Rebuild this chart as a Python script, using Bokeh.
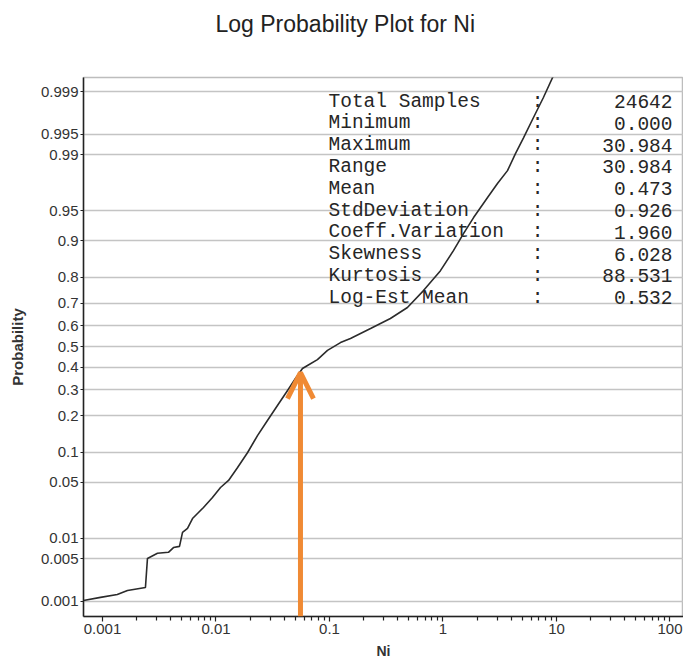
from statistics import NormalDist
from bokeh.plotting import figure
from bokeh.models import (Range1d, FixedTicker, CustomJSTickFormatter, Title,
                          Arrow, OpenHead, ColumnDataSource)
from bokeh.core.properties import value
from bokeh.embed import file_html
from bokeh.resources import INLINE

# ---------------- data ----------------
ni_values = [0.00068, 0.00096, 0.00135, 0.00166, 0.00239, 0.00249, 0.00305, 0.00381,
             0.00422, 0.00477, 0.00507, 0.00561, 0.00621, 0.00701, 0.00776, 0.00931,
             0.01096, 0.0129, 0.0155, 0.0190, 0.0232, 0.0284, 0.0348, 0.0427, 0.0501,
             0.0578, 0.0640, 0.0783, 0.0960, 0.125, 0.153, 0.230, 0.344, 0.486, 0.673,
             0.950, 1.24, 1.52, 1.86, 2.47, 3.02, 3.70, 4.35, 5.12, 6.27, 7.67, 9.41]
cum_prob = [0.00104, 0.00118, 0.00132, 0.00155, 0.00174, 0.0051, 0.0061, 0.0063,
            0.0074, 0.0077, 0.0121, 0.0137, 0.0185, 0.0221, 0.0255, 0.0336,
            0.0437, 0.0522, 0.0712, 0.0994, 0.140, 0.185, 0.237, 0.297, 0.349,
            0.395, 0.409, 0.437, 0.481, 0.519, 0.539, 0.586, 0.633, 0.682, 0.751,
            0.821, 0.878, 0.915, 0.941, 0.9645, 0.9759, 0.9835, 0.9903, 0.9943, 0.99725, 0.99873, 0.99949]

prob_ticks = [0.001, 0.005, 0.01, 0.05, 0.1, 0.2, 0.3, 0.4, 0.5, 0.6, 0.7, 0.8,
              0.9, 0.95, 0.99, 0.995, 0.999]
prob_tick_labels = ["0.001", "0.005", "0.01", "0.05", "0.1", "0.2", "0.3", "0.4", "0.5",
                    "0.6", "0.7", "0.8", "0.9", "0.95", "0.99", "0.995", "0.999"]
x_major_ticks = [0.001, 0.01, 0.1, 1, 10, 100]

stat_names = ["Total Samples", "Minimum", "Maximum", "Range", "Mean", "StdDeviation",
              "Coeff.Variation", "Skewness", "Kurtosis", "Log-Est Mean"]
stat_values = ["24642", "0.000", "30.984", "30.984", "0.473", "0.926", "1.960",
               "6.028", "88.531", "0.532"]

arrow_x = 0.0555
arrow_p = 0.376

# ---------------- layout ----------------
W, H = 683, 663
FL, FR, FT, FB = 83, 683, 77, 616
LX_MIN, LX_MAX = -3.1674, 2.119
Z_MIN, Z_MAX = -3.273, 3.261

def x_at(px):
    return 10 ** (LX_MIN + (px - FL) / (FR - FL) * (LX_MAX - LX_MIN))

def z_at(py):
    return Z_MAX - (py - FT) / (FB - FT) * (Z_MAX - Z_MIN)

nd = NormalDist()
z_vals = [nd.inv_cdf(p) for p in cum_prob]
z_ticks = [nd.inv_cdf(p) for p in prob_ticks]

p = figure(width=W, height=H, x_axis_type="log",
           x_range=Range1d(10 ** LX_MIN, 10 ** LX_MAX), y_range=Range1d(Z_MIN, Z_MAX),
           output_backend="svg", toolbar_location=None, title=None,
           min_border_left=FL, min_border_right=W - FR, min_border_top=FT,
           min_border_bottom=H - FB)
# spacer panel next to the frame, then the real title above it
p.add_layout(Title(text=" ", text_font_size="22px", standoff=14), "above")
p.add_layout(Title(text="Log Probability Plot for Ni", text_font="Liberation Sans",
                   text_font_size="23px", text_font_style="normal", text_color="#222222",
                   align="left", offset=215 - FL, standoff=0), "above")
p.background_fill_color = "white"
p.border_fill_color = "white"
p.outline_line_color = "#bdbdbd"
p.outline_line_width = 1.5

# axes
minor = [m * 10 ** e for e in range(-3, 3) for m in range(2, 10)]
p.xaxis.ticker = FixedTicker(ticks=x_major_ticks, minor_ticks=minor)
p.xaxis.formatter = CustomJSTickFormatter(code="return String(tick);")
p.yaxis.ticker = FixedTicker(ticks=z_ticks)
p.yaxis.formatter = CustomJSTickFormatter(
    args=dict(zs=z_ticks, labels=prob_tick_labels),
    code="""let b = 0;
for (let i = 0; i < zs.length; i++) { if (Math.abs(zs[i]-tick) < Math.abs(zs[b]-tick)) b = i; }
return labels[b];""")

for ax in (p.xaxis[0], p.yaxis[0]):
    ax.axis_line_color = "#222222"
    ax.axis_line_width = 1.5
    ax.major_tick_line_color = "#222222"
    ax.minor_tick_line_color = "#222222"
    ax.major_tick_line_width = 1.2
    ax.minor_tick_line_width = 1.2
    ax.major_tick_in = 0
    ax.minor_tick_in = 0
    ax.major_label_text_font = "Liberation Sans"
    ax.major_label_text_font_size = "15px"
    ax.major_label_text_color = "#333333"
    ax.axis_label_text_font = "Liberation Sans"
    ax.axis_label_text_font_style = "bold"
    ax.axis_label_text_color = "#333333"

p.xaxis.major_tick_out = 5
p.xaxis.minor_tick_out = 4
p.xaxis.major_label_standoff = 2
p.xaxis.axis_label = "Ni"
p.xaxis.axis_label_text_font_size = "14px"
p.xaxis.axis_label_standoff = 6

p.yaxis.major_tick_out = 3
p.yaxis.minor_tick_out = 0
p.yaxis.major_label_standoff = 2
p.yaxis.axis_label = "Probability"
p.yaxis.axis_label_text_font_size = "15px"
p.yaxis.axis_label_standoff = 12

p.xgrid.visible = False
p.ygrid.grid_line_color = "#c4c4c4"
p.ygrid.grid_line_width = 1.5

# curve
src = ColumnDataSource(dict(x=ni_values, z=z_vals))
p.line("x", "z", source=src, line_color="#2b2b2b", line_width=1.6)

# arrow
ORANGE = "#F08A34"
p.add_layout(Arrow(end=OpenHead(size=26, line_color=ORANGE, line_width=5),
                   x_start=arrow_x, y_start=Z_MIN, x_end=arrow_x, y_end=nd.inv_cdf(arrow_p),
                   line_color=ORANGE, line_width=5))

# stats table
ROW0, ROWH = 101, 21.8
rows_y = [z_at(ROW0 + i * ROWH) for i in range(len(stat_names))]
n = len(stat_names)
stat_src = ColumnDataSource(dict(
    xl=[x_at(328)] * n, xc=[x_at(537)] * n, xr=[x_at(672)] * n, y=rows_y,
    name=stat_names, colon=[":"] * n, val=stat_values))
common = dict(source=stat_src, text_font=value("Liberation Mono"), text_font_size="19.5px",
              text_color="#262626", text_baseline="middle")
p.text(x="xl", y="y", text="name", text_align="left", **common)
p.text(x="xc", y="y", text="colon", text_align="center", **common)
p.text(x="xr", y="y", text="val", text_align="right", **common)

open("out.html", "w").write(file_html(p, INLINE))
